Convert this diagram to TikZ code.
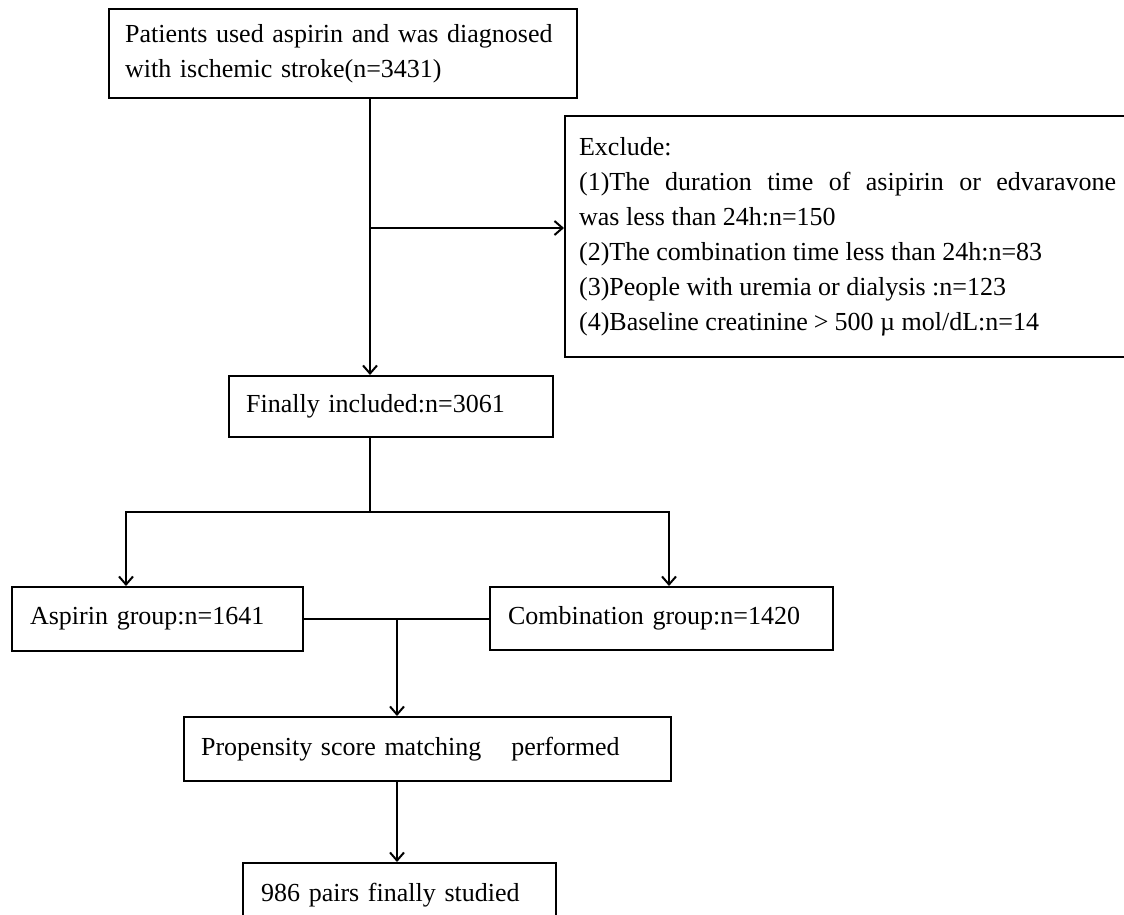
\documentclass[tikz,border=0pt]{standalone}
\usepackage{fontspec}
\setmainfont{Liberation Serif}
\usetikzlibrary{arrows.meta}

\tikzset{
    flowbox/.style={draw, line width=1.1pt, anchor=north west, align=left,
        inner ysep=0pt, font=\fontsize{13}{17.5}\selectfont},
    flowline/.style={line width=1pt},
    flowarrow/.style={line width=1pt, -{Straight Barb[length=4pt,width=7pt]}}
}

\begin{document}
\begin{tikzpicture}[x=0.5pt, y=-0.5pt]
    % Page frame
    \fill[white] (0,0) rectangle (1124,915);
    \useasboundingbox (0,0) rectangle (1124,915);

    % Boxes
    \node[flowbox, inner xsep=8pt, text width=218pt, minimum height=44.5pt] (top) at (108,8)
        {Patients used aspirin and was diagnosed\\ with ischemic stroke(n=3431)};
    \node[flowbox, inner xsep=7pt, text width=268.5pt, minimum height=120.5pt, align=justify] (excl) at (564,115)
        {Exclude:\\
         (1)The duration time of asipirin or edvaravone\linebreak was less than 24h:n=150\\
         (2)The combination time less than 24h:n=83\\
         (3)People with uremia or dialysis :n=123\\
         (4)Baseline creatinine\hspace{3pt}>\hspace{3pt}500 µ mol/dL:n=14};
    \node[flowbox, inner xsep=8.5pt, text width=145pt, minimum height=30.5pt] (fin) at (228,375)
        {Finally included:n=3061};
    \node[flowbox, inner xsep=9pt, text width=127.5pt, minimum height=32pt] (asp) at (11,586)
        {Aspirin group:n=1641};
    \node[flowbox, inner xsep=9pt, text width=153.5pt, minimum height=31.5pt] (comb) at (489,586)
        {Combination group:n=1420};
    \node[flowbox, inner xsep=8.5pt, text width=226.5pt, minimum height=32pt] (psm) at (183,716)
        {Propensity score matching\hspace{15pt}performed};
    \node[flowbox, inner xsep=9pt, text width=138.5pt, minimum height=32pt] (pairs) at (242,862)
        {986 pairs finally studied};

    % Connectors
    \coordinate (trunk) at (370,0);
    \coordinate (exit) at (370,228);
    \coordinate (split) at (370,512);
    \coordinate (aspin) at (126,0);
    \coordinate (combin) at (669,0);
    \coordinate (join) at (397,0);

    \draw[flowarrow] (top.south -| trunk) -- (fin.north -| trunk);
    \draw[flowarrow] (exit) -- (exit -| excl.west);

    \draw[flowline] (fin.south -| trunk) -- (split);
    \draw[flowarrow] (split) -| (asp.north -| aspin);
    \draw[flowarrow] (split) -| (comb.north -| combin);

    \draw[flowline] (asp.east) -- (asp.east -| comb.west);
    \draw[flowarrow] (asp.east -| join) -- (psm.north -| join);
    \draw[flowarrow] (psm.south -| join) -- (pairs.north -| join);
\end{tikzpicture}
\end{document}
